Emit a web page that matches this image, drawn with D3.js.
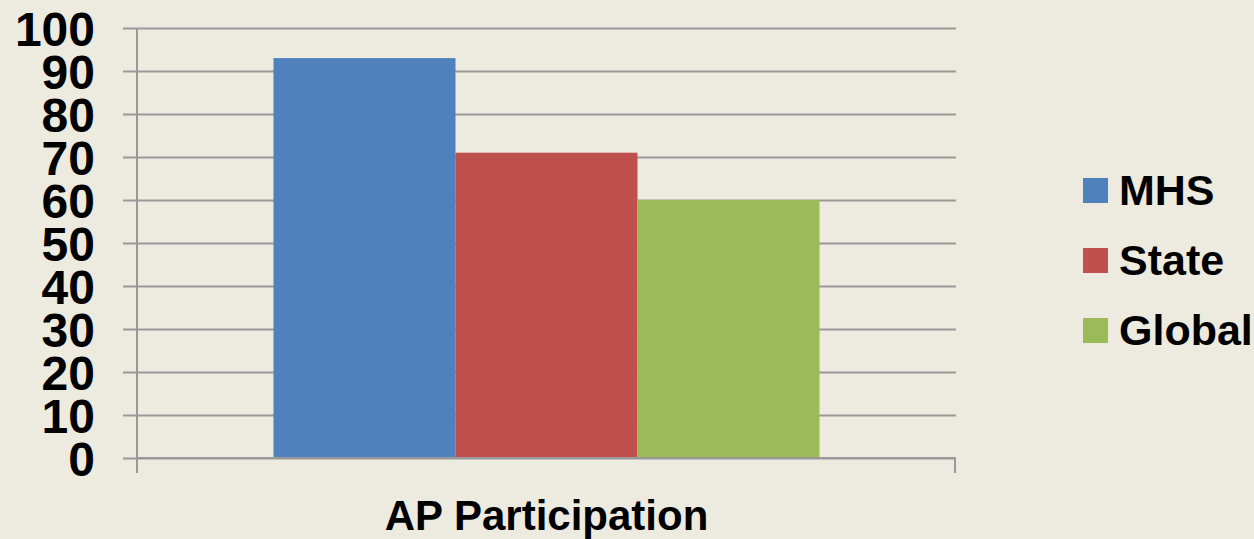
<!DOCTYPE html>
<html>
<head>
<meta charset="utf-8">
<script src="https://cdn.jsdelivr.net/npm/d3@7"></script>
<style>
  html, body { margin: 0; padding: 0; background: #EDEBE0; }
  text { font-family: "Liberation Sans", Arial, sans-serif; font-weight: bold; fill: #000; }
</style>
</head>
<body>
<div class="container"></div>
<script>
const WIDTH = 1254;
const HEIGHT = 539;

// data
var categories = ["AP Participation"];
var seriesNames = ["MHS", "State", "Global"];
var mhsValues = [93];
var stateValues = [71];
var globalValues = [60];
var yTicks = [0, 10, 20, 30, 40, 50, 60, 70, 80, 90, 100];
var colors = ["#4F81BD", "#C0504D", "#9BBB59"];

var plot = { left: 137, right: 956, top: 28, bottom: 458 };

var svg = d3.select(".container")
    .append("svg")
    .attr("width", WIDTH)
    .attr("height", HEIGHT);

var yScale = d3.scaleLinear()
    .domain([0, 100])
    .range([plot.bottom, plot.top]);

var xScale = d3.scaleBand()
    .domain(categories)
    .range([plot.left, plot.right])
    .paddingInner(0)
    .paddingOuter(0.25);

var seriesScale = d3.scaleBand()
    .domain(seriesNames)
    .range([0, xScale.bandwidth()]);

// gridlines + y ticks
var yAxis = d3.axisLeft(yScale)
    .tickValues(yTicks)
    .tickSize(-(plot.right - plot.left) - 14)
    .tickPadding(42)
    .tickFormat(d3.format("d"));

var yG = svg.append("g")
    .attr("transform", "translate(" + (plot.left - 14) + ",0)")
    .call(yAxis);
yG.select(".domain").remove();
yG.selectAll(".tick line")
    .attr("x1", 0)
    .attr("x2", plot.right - plot.left + 14)
    .attr("stroke", "#999")
    .attr("stroke-width", 2);
yG.selectAll(".tick text")
    .style("font-size", "48px")
    .style("font-family", "'Liberation Sans', Arial, sans-serif")
    .style("font-weight", "bold")
    .attr("fill", "#000")
    .attr("x", 95 - (plot.left - 14))
    .attr("dy", "0.36em");

// vertical axis line
svg.append("line")
    .attr("x1", plot.left).attr("x2", plot.left)
    .attr("y1", plot.top).attr("y2", plot.bottom + 15)
    .attr("stroke", "#999").attr("stroke-width", 2);

// bars
var rows = [mhsValues, stateValues, globalValues];
categories.forEach(function (cat, ci) {
    var g = svg.append("g")
        .attr("transform", "translate(" + xScale(cat) + ",0)");
    g.selectAll("rect")
        .data(seriesNames.map(function (s, si) { return { name: s, value: rows[si][ci], color: colors[si] }; }))
        .enter()
        .append("rect")
        .attr("x", function (d) { return seriesScale(d.name); })
        .attr("width", seriesScale.bandwidth())
        .attr("y", function (d) { return yScale(d.value); })
        .attr("height", function (d) { return yScale(0) - yScale(d.value); })
        .attr("fill", function (d) { return d.color; });
});

// x axis line and category ticks
svg.append("line")
    .attr("x1", plot.left).attr("x2", plot.right)
    .attr("y1", plot.bottom).attr("y2", plot.bottom)
    .attr("stroke", "#999").attr("stroke-width", 2);
svg.append("line")
    .attr("x1", plot.right - 1).attr("x2", plot.right - 1)
    .attr("y1", plot.bottom).attr("y2", plot.bottom + 15)
    .attr("stroke", "#999").attr("stroke-width", 2);

svg.selectAll(".cat-label")
    .data(categories)
    .enter()
    .append("text")
    .attr("class", "cat-label")
    .attr("x", function (d) { return xScale(d) + xScale.bandwidth() / 2; })
    .attr("y", 530)
    .attr("text-anchor", "middle")
    .style("font-size", "42px")
    .text(function (d) { return d; });

// legend
var legend = svg.append("g").attr("transform", "translate(1083,178)");
var items = legend.selectAll("g")
    .data(seriesNames)
    .enter()
    .append("g")
    .attr("transform", function (d, i) { return "translate(0," + (i * 70) + ")"; });
items.append("rect")
    .attr("width", 25).attr("height", 25)
    .attr("fill", function (d, i) { return colors[i]; });
items.append("text")
    .attr("x", 36)
    .attr("y", 27)
    .style("font-size", "43px")
    .text(function (d) { return d; });
</script>
</body>
</html>
